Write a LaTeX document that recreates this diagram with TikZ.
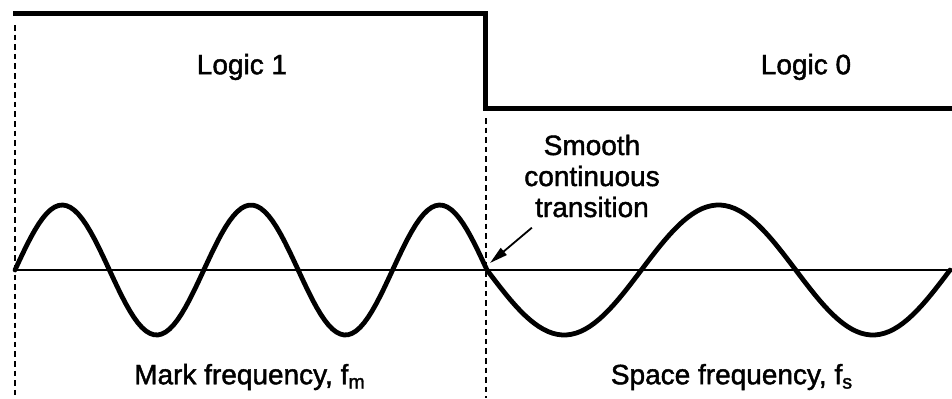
\documentclass[tikz,border=0pt]{standalone}
\usepackage{fontspec}
\setmainfont{Liberation Sans}[BoldFont=Liberation Sans, BoldFeatures={FakeBold=1.5}]
\usetikzlibrary{arrows.meta}
\tikzset{
  signal/.style={line width=2.5pt, line join=miter},
  wave/.style={line width=2.4pt, line cap=round, line join=round},
  zeroline/.style={line width=1.2pt},
  divider/.style={line width=1pt, dash pattern=on 2.8pt off 2pt},
  pointer/.style={-{Triangle[length=9pt,width=4.5pt]}, line width=0.9pt},
  caption/.style={font=\fontsize{14}{15.5}\selectfont\bfseries, inner sep=0pt, align=center}
}
\begin{document}
\begin{tikzpicture}[x=0.5pt,y=-0.5pt]
\useasboundingbox (0,0) rectangle (952,398);
\draw[divider] (15,25) -- (15,398);
\draw[divider] (486,118) -- (486,398);
\draw[signal] (13,13) -- (485,13) -- (485,108) -- (952,108);
\draw[zeroline] (15,270) -- (952,270);
\draw[wave] plot[domain=15:487, samples=120] (\x, {270-65*sin(1.9068*(\x-15))})
  -- plot[domain=487:950, samples=100] (\x, {270-65*sin(180+1.16618*(\x-487))});

\node[caption] (logic1) at (242,67) {Logic 1};
\node[caption] (logic0) at (806,67) {Logic 0};
\node[caption] (smooth) at (592,176) {Smooth\\continuous\\transition};
\node[caption] (mark) at (250,377) {Mark frequency, f\textsubscript{m}};
\node[caption] (space) at (732,377) {Space frequency, f\textsubscript{s}};
\coordinate (cross) at (490,263);
\draw[pointer] ([shift={(8,10)}]smooth.south west) -- (cross);
\end{tikzpicture}
\end{document}
